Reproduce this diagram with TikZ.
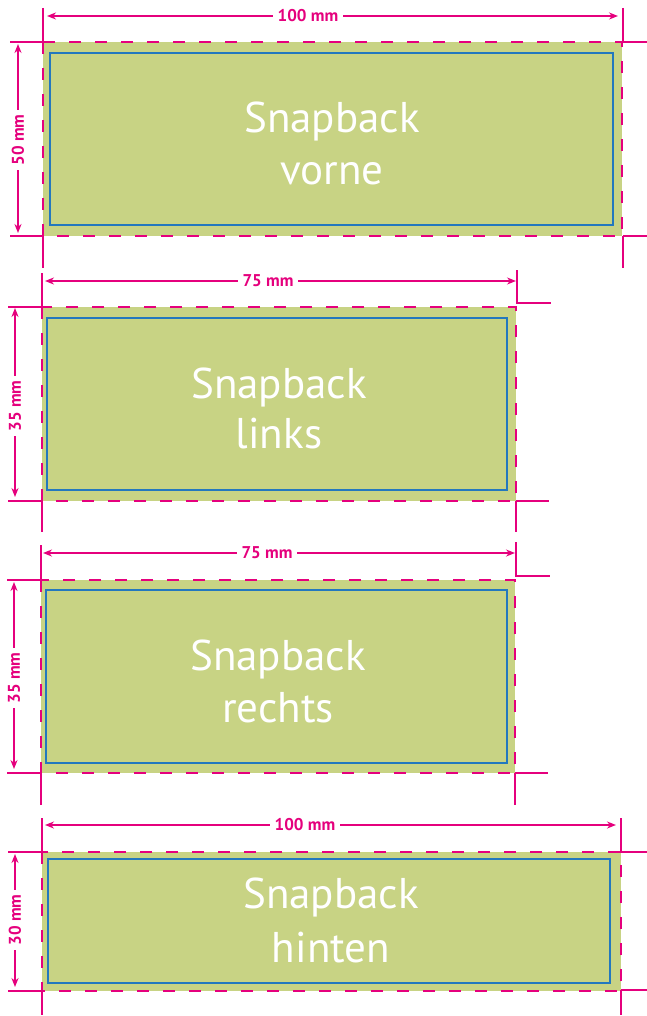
\documentclass[tikz,border=0pt]{standalone}
\usepackage{fontspec}
\setmainfont{PT Sans}
\usetikzlibrary{arrows.meta}
\definecolor{pinkc}{RGB}{229,0,125}
\definecolor{greenc}{RGB}{200,211,132}
\definecolor{bluec}{RGB}{35,120,190}
\tikzset{
  cropmark/.style={color=pinkc,line width=1.1pt},
  dimline/.style={color=pinkc,line width=1.9pt,{Stealth[length=9pt,width=7pt]}-{Stealth[length=9pt,width=7pt]}},
  dimlabel/.style={fill=white,text=pinkc,font=\fontsize{17}{19}\selectfont\bfseries,inner xsep=5pt,inner ysep=2pt},
  bleed/.style={fill=greenc},
  bleedborder/.style={color=pinkc,line width=2.6pt,dash pattern=on 12pt off 14pt},
  safe/.style={color=bluec,line width=1.3pt},
  title/.style={text=white,font=\fontsize{43}{50}\selectfont,anchor=base,inner sep=0pt}
}
\begin{document}
\begin{tikzpicture}[x=1pt,y=-1pt]
\useasboundingbox (0,0) rectangle (647,1016);
% ---------- Panel 1 ----------
\fill[bleed] (43,42) rectangle (622,236);
\draw[safe] (50,53) rectangle (613,225);
\draw[bleedborder] (43,42) rectangle (622,236);
\node[title] (t1a) at (332,133) {Snapback};
\node[title] (t1b) at (332,185) {vorne};
\draw[cropmark] (43,8) -- (43,42) (10,42) -- (43,42) (10,236) -- (43,236) (43,236) -- (43,268);
\draw[cropmark] (623,8) -- (623,42) -- (647,42) (623,236) -- (647,236) (623,236) -- (623,268);
\coordinate (h1a) at (47,16); \coordinate (h1b) at (618,16);
\draw[dimline] (h1a) -- (h1b);
\node[dimlabel] (l1h) at (308,16) {100 mm};
\coordinate (v1a) at (18,44); \coordinate (v1b) at (18,233);
\draw[dimline] (v1a) -- (v1b);
\node[dimlabel,rotate=90] (l1v) at (18,140) {50 mm};
% ---------- Panel 2 ----------
\fill[bleed] (42,307) rectangle (516,501);
\draw[safe] (47,318) rectangle (507,490);
\draw[bleedborder] (42,307) rectangle (516,501);
\node[title] (t2a) at (279,398) {Snapback};
\node[title] (t2b) at (279,448) {links};
\draw[cropmark] (42,273) -- (42,307) (8,307) -- (42,307) (8,501) -- (42,501) (42,501) -- (42,532);
\draw[cropmark] (517,270) -- (517,303) -- (551,303) (516,501) -- (549,501) (516,501) -- (516,532);
\coordinate (h2a) at (45,281); \coordinate (h2b) at (516,281);
\draw[dimline] (h2a) -- (h2b);
\node[dimlabel] (l2h) at (268,281) {75 mm};
\coordinate (v2a) at (15,308); \coordinate (v2b) at (15,497);
\draw[dimline] (v2a) -- (v2b);
\node[dimlabel,rotate=90] (l2v) at (15,406) {35 mm};
% ---------- Panel 3 ----------
\fill[bleed] (41,580) rectangle (515,773);
\draw[safe] (46,590) rectangle (507,763);
\draw[bleedborder] (41,580) rectangle (515,773);
\node[title] (t3a) at (278,670) {Snapback};
\node[title] (t3b) at (278,722) {rechts};
\draw[cropmark] (41,545) -- (41,580) (7,580) -- (41,580) (7,773) -- (41,773) (41,773) -- (41,805);
\draw[cropmark] (516,542) -- (516,576) -- (550,576) (515,773) -- (548,773) (515,773) -- (515,805);
\coordinate (h3a) at (43,553); \coordinate (h3b) at (515,553);
\draw[dimline] (h3a) -- (h3b);
\node[dimlabel] (l3h) at (267,553) {75 mm};
\coordinate (v3a) at (14,582); \coordinate (v3b) at (14,769);
\draw[dimline] (v3a) -- (v3b);
\node[dimlabel,rotate=90] (l3v) at (14,678) {35 mm};
% ---------- Panel 4 ----------
\fill[bleed] (42,852) rectangle (621,991);
\draw[safe] (48,859) rectangle (610,983);
\draw[bleedborder] (42,852) rectangle (621,991);
\node[title] (t4a) at (331,908) {Snapback};
\node[title] (t4b) at (331,962) {hinten};
\draw[cropmark] (42,818) -- (42,852) (8,852) -- (42,852) (8,991) -- (42,991) (42,991) -- (42,1015);
\draw[cropmark] (621,818) -- (621,852) -- (647,852) (621,990) -- (647,990) (621,990) -- (621,1015);
\coordinate (h4a) at (45,825); \coordinate (h4b) at (616,825);
\draw[dimline] (h4a) -- (h4b);
\node[dimlabel] (l4h) at (305,825) {100 mm};
\coordinate (v4a) at (15,854); \coordinate (v4b) at (15,987);
\draw[dimline] (v4a) -- (v4b);
\node[dimlabel,rotate=90] (l4v) at (15,920) {30 mm};
\end{tikzpicture}
\end{document}
